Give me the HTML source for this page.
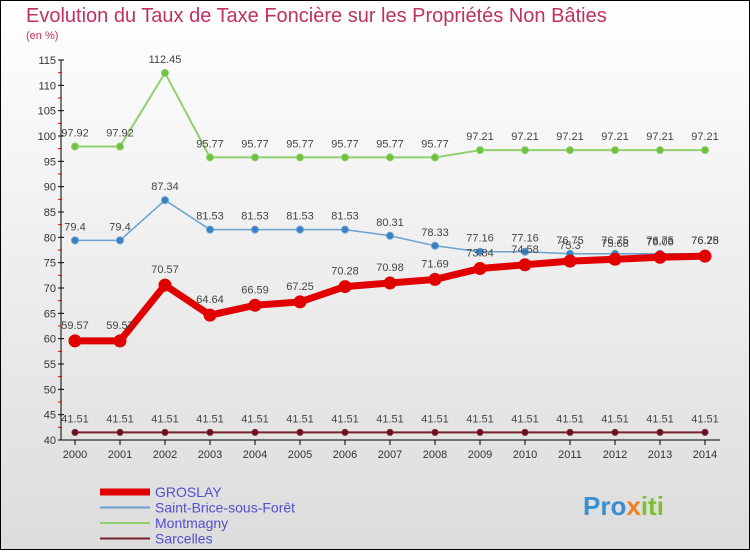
<!DOCTYPE html>
<html><head><meta charset="utf-8"><style>
body{margin:0;width:750px;height:550px;overflow:hidden;font-family:"Liberation Sans",sans-serif}
</style></head><body>
<svg width="750" height="550" xmlns="http://www.w3.org/2000/svg">
<defs><linearGradient id="bg" x1="0" y1="0" x2="0" y2="1"><stop offset="0" stop-color="#ffffff"/><stop offset="1" stop-color="#dcdcdc"/></linearGradient></defs>
<rect x="0.5" y="0.5" width="749" height="549" fill="url(#bg)" stroke="#000"/>
<text x="26" y="22" font-size="20" fill="#c03060">Evolution du Taux de Taxe Foncière sur les Propriétés Non Bâties</text>
<text x="26" y="39" font-size="11" fill="#c03060">(en %)</text>
<g id="axes"></g><g id="series"></g><g id="legend"></g>
<text x="583" y="515" font-size="26" font-weight="bold" fill="#3a8fd0">Pro<tspan fill="#f08020">x</tspan><tspan fill="#80c030">iti</tspan></text>
</svg>
<script>
const years=[2000,2001,2002,2003,2004,2005,2006,2007,2008,2009,2010,2011,2012,2013,2014];
const groslay=[59.57,59.57,70.57,64.64,66.59,67.25,70.28,70.98,71.69,73.84,74.58,75.3,75.68,76.06,76.28];
const stbrice=[79.4,79.4,87.34,81.53,81.53,81.53,81.53,80.31,78.33,77.16,77.16,76.75,76.75,76.75,76.75];
const montmagny=[97.92,97.92,112.45,95.77,95.77,95.77,95.77,95.77,95.77,97.21,97.21,97.21,97.21,97.21,97.21];
const sarcelles=[41.51,41.51,41.51,41.51,41.51,41.51,41.51,41.51,41.51,41.51,41.51,41.51,41.51,41.51,41.51];
const yTicks=[40,45,50,55,60,65,70,75,80,85,90,95,100,105,110,115];
const NS="http://www.w3.org/2000/svg";
const X=i=>75+i*45, Y=v=>440-(v-40)*380/75;
function mk(t,a,p){const e=document.createElementNS(NS,t);for(const k in a)e.setAttribute(k,a[k]);p.appendChild(e);return e;}
const ax=document.getElementById('axes');
let l=mk('line',{x1:61,y1:60,x2:61,y2:440,stroke:'#000'},ax);

l=mk('line',{x1:61,y1:440,x2:720,y2:440,stroke:'#000'},ax);

yTicks.forEach(v=>{mk('line',{x1:58,y1:Y(v),x2:64,y2:Y(v),stroke:'#000'},ax);
 if(v<115)mk('line',{x1:58,y1:Y(v+2.5),x2:62,y2:Y(v+2.5),stroke:'#e00'},ax);
 const t=mk('text',{x:56,y:Y(v)+4,'font-size':11,'text-anchor':'end',fill:'#333'},ax);t.textContent=v;
 });
years.forEach((y,i)=>{mk('line',{x1:X(i),y1:440,x2:X(i),y2:445,stroke:'#000'},ax);
 const t=mk('text',{x:X(i),y:458,'font-size':11,'text-anchor':'middle',fill:'#333'},ax);t.textContent=y;
 });
const sg=document.getElementById('series');
function series(vals,color,dot,w,r,name,dy){
 const g=mk('g',{},sg);
 const p=mk('polyline',{points:vals.map((v,i)=>X(i)+','+Y(v)).join(' '),fill:'none',stroke:color,'stroke-width':w,'stroke-linejoin':'round'},g);
 
 vals.forEach((v,i)=>{const c=mk('circle',{cx:X(i),cy:Y(v),r:r,fill:dot,stroke:color,'stroke-width':1},g);
  
  const t=mk('text',{x:X(i),y:Y(v)+dy,'font-size':11,'text-anchor':'middle',fill:'#444'},g);t.textContent=v;
  });
}
series(sarcelles,'#7a2030','#6a1020',2,3,'sarcelles',-10);
series(montmagny,'#90d070','#70c040',2,3.5,'montmagny',-10);
series(stbrice,'#6aa0d0','#3a80c0',1.5,3.5,'saint-brice',-10);
series(groslay,'#e00000','#e00000',7,6,'groslay',-12);
const lg=document.getElementById('legend');
[['GROSLAY','#e00000',7],['Saint-Brice-sous-Forêt','#6aa0d0',2],['Montmagny','#90d070',2],['Sarcelles','#7a2030',2]].forEach((d,i)=>{
 const y=492+i*15.5;
 const g=mk('g',{},lg);
 mk('line',{x1:100,y1:y,x2:150,y2:y,stroke:d[1],'stroke-width':d[2]},g);
 const t=mk('text',{x:155,y:y+5,'font-size':14,fill:'#5050d0'},g);t.textContent=d[0];});
</script>
</body></html>
